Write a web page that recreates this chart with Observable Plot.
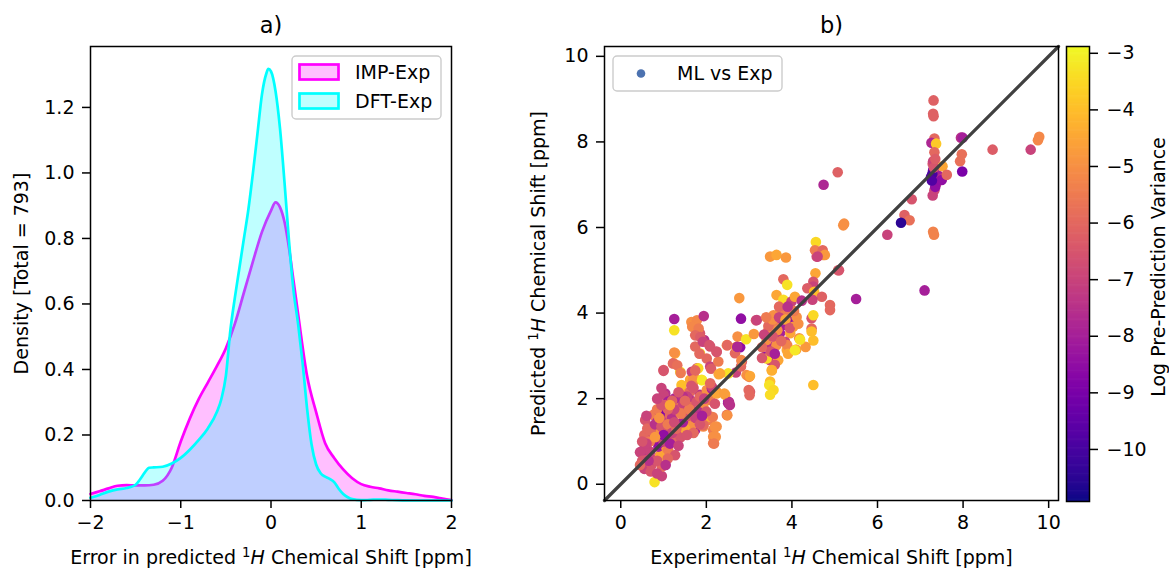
<!DOCTYPE html>
<html>
<head>
<meta charset="utf-8">
<script src="https://cdn.jsdelivr.net/npm/d3@7"></script>
<script src="https://cdn.jsdelivr.net/npm/@observablehq/plot@0.6"></script>
<style>
  html, body { margin: 0; padding: 0; background: white; }
  #wrap { position: relative; width: 1169px; height: 568px; overflow: hidden; font-family: "DejaVu Sans", sans-serif; }
  #wrap > div, #wrap > svg { position: absolute; top: 0; }
</style>
</head>
<body>
<div id="wrap">
  <div id="pa" style="left:0px"></div>
  <div id="pb" style="left:480px"></div>
  <div id="pc" style="left:1040px"></div>
</div>
<script>
// ---------- Panel a: KDE of errors ----------
const impX = [-2,-1.9,-1.8,-1.7,-1.6,-1.5,-1.4,-1.3,-1.2,-1.1,-1.0,-0.9,-0.8,-0.7,-0.6,-0.5,-0.4,-0.3,-0.2,-0.1,0,0.05,0.1,0.15,0.2,0.25,0.3,0.4,0.5,0.6,0.7,0.8,0.9,1.0,1.1,1.2,1.3,1.4,1.5,1.6,1.7,1.8,1.9,2.0];
const impDensity = [0.02,0.028,0.037,0.045,0.047,0.046,0.046,0.048,0.06,0.1,0.18,0.25,0.31,0.36,0.41,0.465,0.54,0.635,0.73,0.82,0.885,0.91,0.895,0.85,0.77,0.67,0.57,0.38,0.27,0.175,0.13,0.095,0.068,0.05,0.042,0.037,0.031,0.027,0.023,0.019,0.014,0.011,0.006,0.001];
const dftX = [-2,-1.9,-1.8,-1.7,-1.6,-1.5,-1.45,-1.4,-1.35,-1.3,-1.2,-1.1,-1.0,-0.9,-0.8,-0.7,-0.6,-0.55,-0.5,-0.45,-0.4,-0.35,-0.3,-0.25,-0.2,-0.15,-0.1,-0.05,-0.03,0,0.05,0.1,0.15,0.2,0.25,0.3,0.35,0.4,0.45,0.5,0.55,0.6,0.65,0.7,0.75,0.8,0.85,0.9,1.0,1.1,1.2,1.3,1.4,1.6,1.8,2.0];
const dftDensity = [0.008,0.017,0.027,0.034,0.038,0.048,0.065,0.085,0.1,0.101,0.103,0.113,0.13,0.155,0.185,0.22,0.27,0.31,0.38,0.52,0.62,0.71,0.80,0.89,1.0,1.12,1.24,1.305,1.318,1.31,1.25,1.135,0.97,0.79,0.64,0.54,0.42,0.28,0.17,0.11,0.083,0.073,0.066,0.056,0.036,0.02,0.01,0.004,0.001,0.002,0.003,0.002,0.001,0,0,0];
const seriesNames = ["IMP-Exp", "DFT-Exp"];
const seriesColors = ["#ff00ff", "#00ffff"];
const xTicksA = [-2,-1,0,1,2];
const yTicksA = [0,0.2,0.4,0.6,0.8,1.0,1.2];

// ---------- Panel b: ML vs Exp scatter ----------
const expShift = [0.79,0.96,0.55,0.72,0.96,0.76,0.92,0.92,0.65,0.53,0.69,0.61,0.88,0.90,1.07,1.11,1.27,0.76,0.57,0.55,0.76,0.90,1.15,1.31,1.39,0.72,0.84,1.15,1.04,1.31,1.50,1.62,1.74,0.57,0.76,0.96,0.92,1.15,1.15,1.31,1.31,1.32,1.04,1.00,1.11,1.42,1.62,1.50,1.62,1.66,1.70,1.62,1.77,1.85,1.85,1.93,1.93,2.05,2.09,2.01,2.13,2.24,2.09,2.16,2.24,2.16,2.16,2.48,2.51,2.51,2.44,2.24,2.13,1.42,1.39,1.70,1.62,1.78,1.89,1.70,1.66,1.81,1.00,1.23,1.27,1.25,1.25,1.85,2.01,2.09,2.24,2.28,1.95,2.09,1.74,1.85,1.70,1.65,1.78,1.94,1.67,1.82,1.74,1.86,1.92,2.07,2.24,1.84,1.25,1.22,1.32,1.00,1.40,1.74,2.11,1.69,1.90,2.48,2.73,2.79,2.93,3.11,3.16,2.67,2.83,2.69,2.81,2.94,3.02,2.51,2.32,2.09,2.77,2.81,2.99,3.01,3.00,2.53,2.55,2.49,2.42,2.20,2.15,2.20,2.22,2.18,1.93,2.49,2.70,2.72,2.82,2.29,0.62,0.85,1.00,1.20,1.35,1.45,1.05,0.85,1.25,0.68,1.00,1.15,0.45,0.50,1.40,1.50,1.80,1.55,1.70,
  0.60,0.70,0.80,0.95,1.10,1.20,1.30,1.45,1.55,1.40,1.25,1.10,0.95,0.85,1.20,1.45,1.60,1.75,1.85,1.70,1.55,1.35,1.10,0.85,0.65,0.50,0.60,0.90,1.00,1.25,1.50,1.65,1.95,2.00,1.90,0.70,0.85,0.45,1.05,0.80,1.15,1.35,0.95,
  3.49,3.64,3.86,4.58,4.73,4.56,4.54,4.72,4.77,4.60,5.08,4.55,3.80,3.89,4.50,4.50,4.36,4.52,4.70,4.89,4.89,3.64,3.80,3.99,4.07,4.23,4.48,3.18,3.57,3.72,3.88,3.64,3.80,3.96,4.11,3.45,3.60,3.72,4.03,3.96,4.46,4.50,4.46,4.46,4.50,4.17,3.49,3.41,3.64,3.84,3.88,4.10,4.32,3.37,3.49,3.68,3.60,3.41,3.53,3.02,3.49,3.47,3.57,3.49,4.50,3.89,3.91,3.53,3.66,4.07,4.19,3.45,3.55,3.70,3.85,3.50,3.30,
  3.55,3.75,3.95,4.05,3.70,3.40,3.35,3.90,4.15,3.60,3.30,
  4.74,5.07,5.22,5.20,5.10,5.50,6.80,6.63,6.75,6.55,6.23,7.10,7.31,7.30,7.31,7.33,7.26,7.37,7.33,7.29,7.30,7.30,7.25,7.33,7.41,7.37,7.33,7.29,7.35,7.50,7.50,7.52,7.62,7.28,7.32,7.35,7.27,7.30,7.32,7.95,7.99,7.97,7.93,7.98,8.69,9.58,9.78,9.75];
const predShift = [0.05,0.19,0.36,0.45,0.41,0.57,0.68,0.66,0.72,0.80,0.76,0.84,0.88,0.92,0.84,0.80,0.68,1.04,1.11,1.15,1.19,0.97,1.11,1.03,1.23,1.35,1.19,1.27,1.50,1.42,1.50,1.39,1.27,1.50,1.62,1.70,1.66,1.66,1.62,1.89,1.93,1.97,2.12,2.09,1.93,2.20,2.16,1.73,1.97,1.38,1.58,1.81,1.93,2.09,2.05,1.81,1.35,1.50,1.97,2.20,2.24,2.16,1.58,1.27,1.35,1.11,0.96,1.62,1.89,1.93,2.09,2.12,2.28,2.32,2.63,2.55,2.44,2.71,2.44,2.40,2.63,2.71,2.67,2.83,3.06,3.60,3.86,3.06,2.94,2.75,3.10,2.87,3.37,3.22,3.22,3.53,3.76,3.79,3.83,3.93,3.68,3.64,3.48,3.44,3.33,3.25,3.09,3.05,3.08,2.82,2.78,2.65,2.60,2.66,2.70,2.43,2.43,3.25,3.45,3.20,3.39,3.51,3.83,3.06,2.87,2.61,2.75,2.55,2.16,2.59,2.59,2.36,4.35,3.87,2.20,2.08,2.51,1.92,1.85,1.61,2.12,1.88,1.57,1.34,1.11,0.95,1.38,3.25,3.21,3.21,2.90,2.57,1.30,1.45,1.30,1.55,1.75,1.90,1.85,1.75,2.00,1.00,1.00,0.95,0.75,0.55,1.10,1.30,1.70,2.05,2.25,
  0.95,1.25,1.40,1.35,1.40,1.20,1.30,1.45,1.60,1.65,1.75,1.75,1.85,2.00,1.95,2.05,1.75,1.55,1.40,1.20,1.15,0.90,0.60,0.55,0.55,1.00,1.60,1.55,1.15,1.45,1.95,2.30,2.00,1.70,1.60,0.30,0.25,0.45,0.45,1.10,1.85,2.15,2.25,
  5.32,5.36,5.30,5.32,5.36,5.66,5.47,5.47,5.36,5.32,5.00,4.93,4.79,4.66,4.73,4.62,4.58,4.50,4.38,4.19,4.07,4.42,4.31,4.27,4.38,4.29,4.31,3.84,3.95,4.03,3.99,3.80,3.72,3.80,3.91,3.60,3.68,3.53,3.68,3.53,3.88,3.95,3.64,3.57,3.36,3.41,3.21,3.37,3.25,3.33,3.14,3.15,3.21,2.98,2.90,2.90,2.79,2.94,2.67,2.53,2.40,2.32,2.20,2.09,2.32,3.25,3.05,2.66,3.60,3.13,3.38,3.70,3.85,3.90,3.85,3.10,3.20,
  3.45,3.35,3.65,4.05,4.15,3.90,3.50,4.15,3.75,3.05,2.95,
  7.00,7.29,6.09,6.05,5.00,4.33,6.66,6.29,6.17,6.11,5.83,4.53,8.97,8.66,8.60,8.08,7.98,7.96,7.76,7.49,7.55,7.34,7.18,7.14,7.22,7.02,6.87,6.75,6.95,7.14,7.11,7.43,7.23,7.25,7.40,7.60,7.10,5.90,5.83,8.10,8.10,7.71,7.55,7.31,7.82,7.82,8.12,8.04];
const logVariance = [-3.3,-7,-7,-6.5,-6,-7,-5,-4.5,-6.5,-7.5,-7,-7,-8,-8.5,-5,-5.5,-6.5,-7.5,-6,-6,-7.5,-8.5,-6.5,-6,-6.5,-6.5,-5,-8,-7,-5.5,-6,-7,-8,-6.5,-5.5,-7,-8.8,-8.8,-6,-7,-6.5,-5,-7.5,-7,-8,-5,-6,-6.5,-7.5,-5,-6,-6,-6.5,-7.5,-6,-5,-5,-5.5,-5.5,-5,-8,-4.8,-4.5,-5.5,-5,-5,-5.5,-6,-7.5,-8,-4.5,-4.5,-7,-4,-3.3,-4.8,-4.5,-6.5,-3.4,-5,-7,-3.5,-6.3,-5.5,-4.5,-3.3,-8,-3.3,-6,-7,-6.5,-5.5,-7.5,-6.5,-6,-6.5,-5,-5,-5.2,-7.5,-5.2,-5.5,-6,-6.3,-7,-6.5,-6.5,-6,-5,-6,-5.8,-6.5,-5.5,-6,-6.3,-5,-3.2,-5,-5,-8.5,-3.3,-4.8,-6.5,-6,-6.5,-7,-6,-5,-6.3,-3.3,-4.5,-6,-4.8,-8.5,-6,-6,-5.2,-7.5,-7.5,-5,-4.7,-6.5,-5.5,-5,-5,-5.5,-6,-6,-4.8,-7.8,-5.2,-4.5,-6,-8,-6.5,-7.5,-6,-7,-6.3,-5.5,-7.8,-5.5,-7,-8,-7,-6.5,-6.5,-4.5,-7.5,-7,-6.5,
  -7,-6,-7.5,-6.5,-5.5,-7,-6,-8,-6.5,-5.5,-7,-6,-6.5,-7,-6.2,-7.5,-5.5,-7,-6.5,-6,-6.5,-7,-6,-6.5,-7.5,-6.5,-7,-5,-8.5,-6.8,-6,-6.5,-7,-6.5,-8,-6.5,-7,-6,-7.5,-4.8,-4.5,-6.5,-7,
  -4.8,-4.5,-4.8,-6.8,-5,-3.5,-5.5,-6,-4.8,-7,-6.2,-4.5,-6,-3.3,-6.5,-7,-6.3,-4,-6.2,-6,-6,-4.5,-3.4,-7,-4.5,-7.5,-7,-7,-5,-5,-5.5,-7.5,-8,-8.5,-5,-5,-5.5,-8,-4.8,-4.5,-6.5,-3.5,-6,-4,-4,-5,-7.5,-5,-5,-7,-4.5,-4.5,-4.8,-8.5,-7,-4.5,-6.5,-3.5,-4.5,-4.5,-4,-3.3,-3.5,-3.4,-4,-5.3,-4.5,-4.3,-5,-3.2,-3.3,-6,-5,-7,-4.5,-6.5,-6,
  -6.5,-6,-6.5,-5.5,-6,-5.5,-7,-7.5,-5,-8,-6.5,
  -7.8,-6.2,-5,-5,-6.5,-8,-6.5,-6.2,-5.8,-10.5,-7,-8,-6.2,-6.2,-6.2,-6,-7.8,-3.8,-6,-6.5,-7,-9,-9.5,-9,-8,-7,-6.8,-7,-8.5,-7.5,-8.5,-4.5,-6,-10,-6.5,-6.3,-9.8,-5.3,-5.3,-7.5,-8,-5.8,-5.8,-9,-6.3,-7,-5.2,-5.2];
const shiftLimits = [-0.38, 10.23];
const shiftTicks = [0,2,4,6,8,10];
const colorDomain = [-10.92, -2.88];
const colorTicks = [-10,-9,-8,-7,-6,-5,-4,-3];

// ---------- Labels ----------
const titleA = "a)", titleB = "b)";
const xLabelA = "Error in predicted ¹H Chemical Shift [ppm]";
const yLabelA = "Density [Total = 793]";
const xLabelB = "Experimental ¹H Chemical Shift [ppm]";
const yLabelB = "Predicted ¹H Chemical Shift [ppm]";
const cbLabel = "Log Pre-Prediction Variance";
const legendB = "ML vs Exp";
const legendBColor = "#4c72b0";

const fmtInt = d3.format("d");
const fmt1 = d3.format(".1f");
const baseStyle = {fontFamily: "DejaVu Sans", fontSize: "19px", color: "black", background: "transparent", overflow: "visible"};

const impData = impX.map((x, i) => ({x, y: impDensity[i]}));
const dftData = dftX.map((x, i) => ({x, y: dftDensity[i]}));

const plotA = Plot.plot({
  width: 480, height: 568,
  marginLeft: 90, marginRight: 29, marginTop: 46, marginBottom: 68,
  style: baseStyle,
  x: {domain: [-2, 2]},
  y: {domain: [0, 1.386]},
  marks: [
    Plot.areaY(impData, {x: "x", y: "y", fill: seriesColors[0], fillOpacity: 0.25, curve: "monotone-x"}),
    Plot.lineY(impData, {x: "x", y: "y", stroke: seriesColors[0], strokeWidth: 2.7, curve: "monotone-x"}),
    Plot.areaY(dftData, {x: "x", y: "y", fill: seriesColors[1], fillOpacity: 0.25, curve: "monotone-x"}),
    Plot.lineY(dftData, {x: "x", y: "y", stroke: seriesColors[1], strokeWidth: 2.7, curve: "monotone-x"}),
    Plot.frame({stroke: "black", strokeWidth: 1.5}),
    Plot.axisX({ticks: xTicksA, tickFormat: fmtInt, tickSize: 8, tickPadding: 7, strokeWidth: 1.5, label: null}),
    Plot.axisY({ticks: yTicksA, tickFormat: fmt1, tickSize: 8, tickPadding: 8, strokeWidth: 1.5, label: null}),
    Plot.text([titleA], {frameAnchor: "top", dy: -21, fontSize: 22.5, lineAnchor: "middle"}),
    Plot.text([xLabelA], {frameAnchor: "bottom", dy: 57, lineAnchor: "middle", textAnchor: "middle"}),
    Plot.text([yLabelA], {frameAnchor: "left", dx: -69, rotate: -90, lineAnchor: "middle", textAnchor: "middle"})
  ]
});

const scatter = expShift.map((x, i) => ({x, y: predShift[i], v: logVariance[i]}));

const plotB = Plot.plot({
  width: 590, height: 568,
  marginLeft: 124, marginRight: 12, marginTop: 46, marginBottom: 68,
  style: baseStyle,
  x: {domain: shiftLimits},
  y: {domain: shiftLimits},
  color: {type: "linear", scheme: "plasma", domain: colorDomain},
  marks: [
    Plot.dot(scatter, {x: "x", y: "y", fill: "v", r: 5.3}),
    Plot.line(shiftLimits.map(d => ({x: d, y: d})), {x: "x", y: "y", stroke: "#404040", strokeWidth: 3.3}),
    Plot.frame({stroke: "black", strokeWidth: 1.5}),
    Plot.axisX({ticks: shiftTicks, tickFormat: fmtInt, tickSize: 8, tickPadding: 7, strokeWidth: 1.5, label: null}),
    Plot.axisY({ticks: shiftTicks, tickFormat: fmtInt, tickSize: 8, tickPadding: 8, strokeWidth: 1.5, label: null}),
    Plot.text([titleB], {frameAnchor: "top", dy: -21, fontSize: 22.5, lineAnchor: "middle"}),
    Plot.text([xLabelB], {frameAnchor: "bottom", dy: 57, lineAnchor: "middle", textAnchor: "middle"}),
    Plot.text([yLabelB], {frameAnchor: "left", dx: -65.5, rotate: -90, lineAnchor: "middle", textAnchor: "middle"})
  ]
});

const cbStep = 0.02;
const cbSteps = d3.range(colorDomain[0], colorDomain[1], cbStep);
const plotC = Plot.plot({
  width: 129, height: 568,
  marginLeft: 26, marginRight: 80, marginTop: 46, marginBottom: 67,
  style: baseStyle,
  x: {domain: [0, 1], axis: null},
  y: {domain: colorDomain},
  color: {type: "linear", scheme: "plasma", domain: colorDomain},
  marks: [
    Plot.rect(cbSteps, {x1: 0, x2: 1, y1: d => d, y2: d => Math.min(d + cbStep * 1.6, colorDomain[1]), fill: d => d + cbStep / 2}),
    Plot.frame({stroke: "black", strokeWidth: 1.5}),
    Plot.axisY({anchor: "right", ticks: colorTicks, tickFormat: fmtInt, tickSize: 8, tickPadding: 9, strokeWidth: 1.5, label: null}),
    Plot.text([cbLabel], {frameAnchor: "right", dx: 69, dy: -7, rotate: -90, lineAnchor: "middle", textAnchor: "middle"})
  ]
});

// Render ¹H as superscript 1 + italic H
function richify(svg) {
  svg.querySelectorAll("text").forEach(t => {
    const s = t.textContent;
    if (!s.includes("¹H")) return;
    const [pre, post] = s.split("¹H");
    while (t.firstChild) t.removeChild(t.firstChild);
    const ns = "http://www.w3.org/2000/svg";
    const a = document.createElementNS(ns, "tspan"); a.textContent = pre; t.appendChild(a);
    const b = document.createElementNS(ns, "tspan"); b.textContent = "1"; b.setAttribute("baseline-shift", "super"); b.setAttribute("font-size", "70%"); t.appendChild(b);
    const c = document.createElementNS(ns, "tspan"); c.textContent = "H"; c.setAttribute("font-style", "italic"); t.appendChild(c);
    const d = document.createElementNS(ns, "tspan"); d.textContent = post; t.appendChild(d);
  });
}
richify(plotA); richify(plotB);

document.getElementById("pa").appendChild(plotA);
document.getElementById("pb").appendChild(plotB);
document.getElementById("pc").appendChild(plotC);

// ---------- Legends (overlay) ----------
const ov = d3.select("#wrap").append("svg")
  .attr("width", 1169).attr("height", 568)
  .style("left", "0px").style("pointer-events", "none")
  .style("font-family", "DejaVu Sans").style("font-size", "19px");

const lgA = ov.append("g");
lgA.append("rect").attr("x", 292).attr("y", 56).attr("width", 149).attr("height", 63).attr("rx", 4)
  .attr("fill", "white").attr("fill-opacity", 0.8).attr("stroke", "#cccccc").attr("stroke-width", 1.4);
seriesNames.forEach((name, i) => {
  const cy = 72 + i * 29;
  lgA.append("rect").attr("x", 299.5).attr("y", cy - 7.5).attr("width", 39).attr("height", 15)
    .attr("fill", seriesColors[i]).attr("fill-opacity", 0.25).attr("stroke", seriesColors[i]).attr("stroke-width", 2.7);
  lgA.append("text").attr("x", 355).attr("y", cy).attr("dy", "0.35em").text(name);
});

const lgB = ov.append("g");
lgB.append("rect").attr("x", 613).attr("y", 56).attr("width", 169).attr("height", 35).attr("rx", 4)
  .attr("fill", "white").attr("fill-opacity", 0.8).attr("stroke", "#cccccc").attr("stroke-width", 1.4);
lgB.append("circle").attr("cx", 641).attr("cy", 73.5).attr("r", 4.3).attr("fill", legendBColor);
lgB.append("text").attr("x", 677).attr("y", 73.5).attr("dy", "0.35em").text(legendB);
</script>
</body>
</html>
